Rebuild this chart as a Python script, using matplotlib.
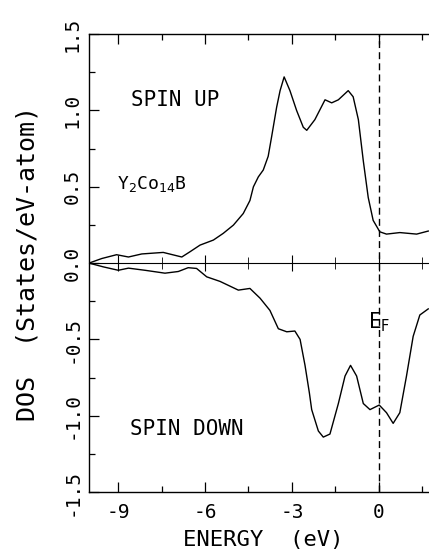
import numpy as np
import matplotlib
matplotlib.use('Agg')
import matplotlib.pyplot as plt
from matplotlib.ticker import MultipleLocator, FixedLocator

plt.rcParams['axes.unicode_minus'] = False
plt.rcParams['font.family'] = ['DejaVu Sans Mono', 'DejaVu Sans']
plt.rcParams['mathtext.fontset'] = 'dejavusans'

# DOS, spin up
e_up = [-10.0, -9.56, -9.05, -8.64, -8.18, -7.44, -6.8, -6.52, -6.17, -5.71, -5.37,
        -5.02, -4.68, -4.45, -4.33, -4.16, -3.99, -3.82, -3.70, -3.53, -3.41, -3.27,
        -3.07, -2.84, -2.61, -2.49, -2.21, -1.86, -1.63, -1.40, -1.06, -0.89, -0.71,
        -0.54, -0.37, -0.20, 0.03, 0.26, 0.72, 1.30, 1.70]
dos_up = [0.0, 0.03, 0.055, 0.04, 0.06, 0.07, 0.04, 0.074, 0.118, 0.151, 0.195,
          0.249, 0.325, 0.41, 0.50, 0.565, 0.61, 0.70, 0.83, 1.02, 1.13, 1.22,
          1.13, 1.0, 0.89, 0.87, 0.94, 1.07, 1.05, 1.07, 1.13, 1.09, 0.94,
          0.67, 0.43, 0.28, 0.205, 0.19, 0.20, 0.19, 0.21]

# DOS, spin down
e_dn = [-10.0, -9.5, -8.99, -8.64, -8.07, -7.38, -6.92, -6.58, -6.29, -5.94, -5.48,
        -4.85, -4.45, -4.10, -3.76, -3.47, -3.18, -2.90, -2.72, -2.55, -2.40, -2.32,
        -2.09, -1.92, -1.69, -1.40, -1.17, -0.98, -0.77, -0.54, -0.31, 0.01, 0.26,
        0.49, 0.72, 0.95, 1.18, 1.41, 1.70]
dos_dn = [0.0, -0.025, -0.047, -0.033, -0.047, -0.066, -0.055, -0.03, -0.035, -0.09, -0.12,
          -0.177, -0.166, -0.23, -0.31, -0.43, -0.45, -0.445, -0.50, -0.67, -0.85, -0.96,
          -1.10, -1.14, -1.12, -0.92, -0.74, -0.67, -0.74, -0.92, -0.96, -0.93, -0.98,
          -1.05, -0.98, -0.74, -0.48, -0.34, -0.30]

xticks = [-9, -6, -3, 0]
xlabels = ['-9', '-6', '-3', '0']
yticks = [-1.5, -1.0, -0.5, 0.0, 0.5, 1.0, 1.5]
ylabels = ['-1.5', '-1.0', '-0.5', '0.0', '0.5', '1.0', '1.5']

fig = plt.figure(figsize=(4.29, 5.51), dpi=100)
ax = fig.add_axes([0.2075, 0.107, 0.811, 0.831])

ax.plot(e_up, dos_up, color='k', lw=1.0)
ax.plot(e_dn, dos_dn, color='k', lw=1.0)
ax.axvline(0, color='k', lw=1.0, ls=(0, (5, 3)))

ax.set_xlim(-10, 2)
ax.set_ylim(-1.5, 1.5)

ax.xaxis.set_major_locator(FixedLocator(xticks))
ax.set_xticklabels(xlabels, fontsize=14)
ax.xaxis.set_minor_locator(MultipleLocator(1.5))
ax.yaxis.set_major_locator(FixedLocator(yticks))
ax.set_yticklabels(ylabels, fontsize=14, rotation=90, va='center')
ax.yaxis.set_minor_locator(MultipleLocator(0.25))
ax.tick_params(which='both', direction='in', top=True, right=False, width=0.9)
ax.tick_params(which='major', length=7)
ax.tick_params(which='minor', length=4)
ax.tick_params(axis='x', pad=8)
ax.tick_params(axis='y', pad=5)
for s in ax.spines.values():
    s.set_linewidth(1.0)

# zero line with crossing ticks
zx = ax.secondary_xaxis(0.5)
zx.xaxis.set_major_locator(FixedLocator(xticks))
zx.xaxis.set_minor_locator(MultipleLocator(1.5))
zx.tick_params(which='both', direction='inout', labelbottom=False, labeltop=False)
zx.tick_params(which='major', length=12)
zx.tick_params(which='minor', length=8)
zx.spines['bottom'].set_linewidth(1.0)

ax.set_xlabel('ENERGY  (eV)', fontsize=16, labelpad=6)
ax.set_ylabel('DOS  (States/eV-atom)', fontsize=18, labelpad=17)

ax.text(-8.55, 1.07, 'SPIN UP', fontsize=15, va='center', ha='left')
ax.text(-9.03, 0.52, 'Y$_2$Co$_{14}$B', fontsize=13, va='center', ha='left')
ax.text(-8.6, -1.09, 'SPIN DOWN', fontsize=15, va='center', ha='left')
ax.text(-0.38, -0.39, r'E$_\mathrm{F}$', fontsize=15, va='center', ha='left')

fig.savefig('out.png', dpi=100)
